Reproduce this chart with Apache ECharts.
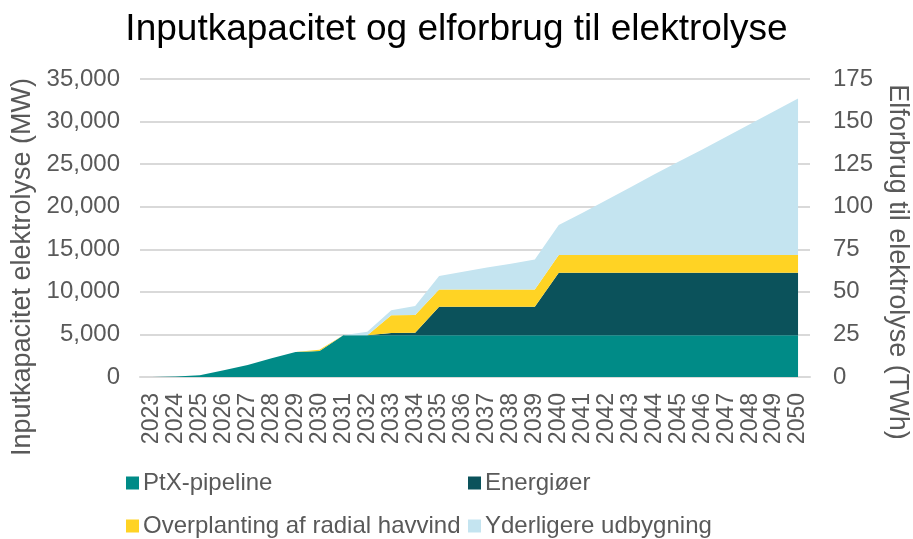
<!DOCTYPE html>
<html>
<head>
<meta charset="utf-8">
<script src="https://cdn.jsdelivr.net/npm/echarts@6/dist/echarts.min.js"></script>
<style>
  html, body { margin: 0; padding: 0; background: #fff; }
  #chart { width: 913px; height: 539px; }
</style>
</head>
<body>
<div id="chart"></div>
<script>
// år
const years = ['2023','2024','2025','2026','2027','2028','2029','2030','2031','2032',
  '2033','2034','2035','2036','2037','2038','2039','2040','2041','2042',
  '2043','2044','2045','2046','2047','2048','2049','2050'];

// MW, stablet
const ptxPipeline = [0, 50, 200, 800, 1400, 2200, 2950, 3050, 4900, 4900,
  4900, 4900, 4900, 4900, 4900, 4900, 4900, 4900, 4900, 4900,
  4900, 4900, 4900, 4900, 4900, 4900, 4900, 4900];
const energioer = [0, 0, 0, 0, 0, 0, 0, 0, 0, 0,
  280, 300, 3350, 3350, 3350, 3350, 3350, 7340, 7340, 7340,
  7340, 7340, 7340, 7340, 7340, 7340, 7340, 7340];
const overplanting = [0, 0, 0, 0, 0, 0, 0, 150, 0, 0,
  2080, 2080, 2040, 2040, 2040, 2040, 2040, 2080, 2080, 2080,
  2080, 2080, 2080, 2080, 2080, 2080, 2080, 2080];
const yderligere = [0, 0, 0, 0, 0, 0, 0, 0, 0, 400,
  580, 1050, 1560, 2060, 2560, 3010, 3520, 3520, 4980, 6480,
  7980, 9480, 10970, 12400, 13900, 15400, 16900, 18380];

const leftTicks = { min: 0, max: 35000, interval: 5000 };
const rightTicks = { min: 0, max: 175, interval: 25 };

const textGray = '#595959';
const font = 'Liberation Sans, Arial, sans-serif';

let myChart = echarts.init(document.getElementById('chart'));

function areaSeries(name, data, color) {
  return {
    name: name,
    type: 'line',
    stack: 'total',
    data: data,
    symbol: 'none',
    lineStyle: { width: 0 },
    itemStyle: { color: color },
    areaStyle: { color: color, opacity: 1 }
  };
}

function legendItem(name, left, top) {
  return {
    data: [name],
    left: left,
    top: top,
    padding: 0,
    icon: 'rect',
    itemWidth: 13,
    itemHeight: 13,
    itemGap: 0,
    textStyle: { color: textGray, fontSize: 24, lineHeight: 24, fontFamily: font, padding: [0, 0, 0, -1] }
  };
}

myChart.setOption({
  animation: false,
  title: {
    text: 'Inputkapacitet og elforbrug til elektrolyse',
    left: 'center',
    top: 6,
    textStyle: { color: '#000', fontSize: 37, fontWeight: 'normal', fontFamily: font }
  },
  legend: [
    legendItem('PtX-pipeline', 126, 471),
    legendItem('Energiøer', 468, 471),
    legendItem('Overplanting af radial havvind', 126, 514),
    legendItem('Yderligere udbygning', 468, 514)
  ],
  grid: { left: 140, right: 103, top: 79, bottom: 162, outerBoundsMode: 'none' },
  xAxis: {
    type: 'category',
    boundaryGap: true,
    data: years,
    axisLine: { lineStyle: { color: '#D9D9D9', width: 2 } },
    axisTick: { show: false },
    axisLabel: {
      rotate: 90,
      interval: 0,
      color: textGray,
      fontSize: 23,
      fontFamily: font,
      margin: 16
    }
  },
  yAxis: [
    {
      type: 'value',
      min: leftTicks.min,
      max: leftTicks.max,
      interval: leftTicks.interval,
      name: 'Inputkapacitet elektrolyse (MW)',
      nameLocation: 'middle',
      nameRotate: 90,
      nameGap: 100,
      // skub titlen lidt ned, som i originalen
      nameTextStyle: { color: textGray, fontSize: 27, fontFamily: font, padding: [0, 78, 0, 0] },
      axisLine: { show: false },
      axisTick: { show: false },
      splitLine: { lineStyle: { color: '#D9D9D9', width: 2 } },
      axisLabel: {
        color: textGray,
        fontSize: 24,
        fontFamily: font,
        margin: 20,
        formatter: v => v.toLocaleString('en-US')
      }
    },
    {
      type: 'value',
      position: 'right',
      min: rightTicks.min,
      max: rightTicks.max,
      interval: rightTicks.interval,
      name: 'Elforbrug til elektrolyse (TWh)',
      nameLocation: 'middle',
      nameRotate: -90,
      nameGap: 71,
      nameTextStyle: { color: textGray, fontSize: 27, fontFamily: font, padding: [0, 0, 0, 68] },
      axisLine: { show: false },
      axisTick: { show: false },
      splitLine: { show: false },
      axisLabel: { color: textGray, fontSize: 24, fontFamily: font, margin: 23 }
    }
  ],
  series: [
    areaSeries('PtX-pipeline', ptxPipeline, '#008B87'),
    areaSeries('Energiøer', energioer, '#0B525B'),
    areaSeries('Overplanting af radial havvind', overplanting, '#FFD324'),
    areaSeries('Yderligere udbygning', yderligere, '#C4E4F0'),
    { name: 'TWh', type: 'line', yAxisIndex: 1, data: [] }
  ]
});
</script>
</body>
</html>
